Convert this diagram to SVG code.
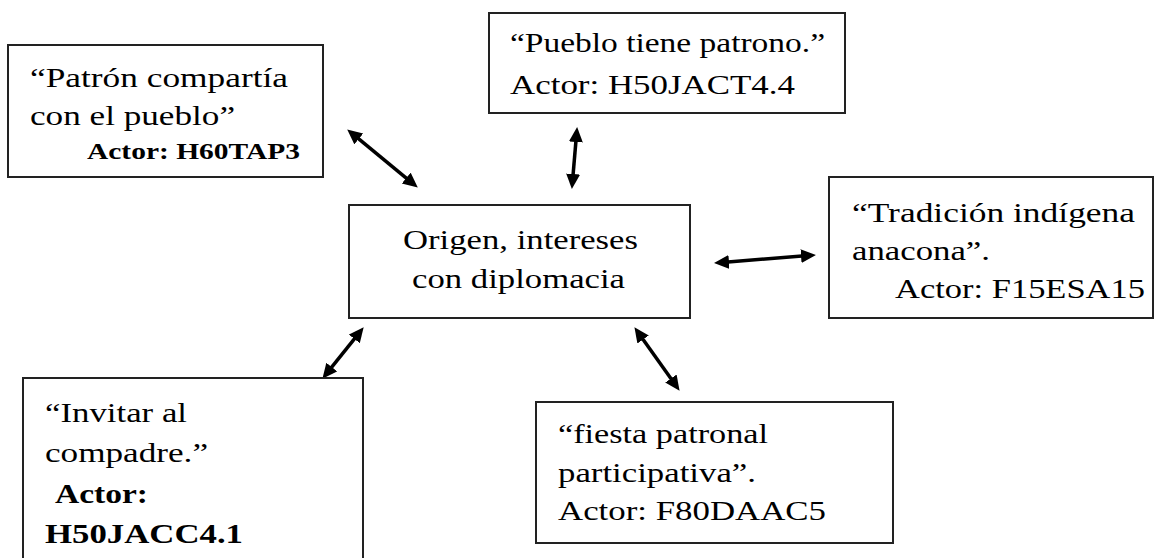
<svg xmlns="http://www.w3.org/2000/svg" width="1156" height="558" viewBox="0 0 1156 558">
<style>
.box{fill:#fff;stroke:#222;stroke-width:2}
.con{stroke:#000;stroke-width:3.5;fill:none;marker-start:url(#ah);marker-end:url(#ah)}
</style>
<defs>
<marker id="ah" markerUnits="userSpaceOnUse" markerWidth="16" markerHeight="15" refX="4" refY="7" orient="auto-start-reverse">
<path d="M0,0 L15,7 L0,14 z" fill="#000"/>
</marker>
</defs>
<rect width="1156" height="558" fill="#fff"/>
<g id="connectors">
<line class="con" x1="355.7" y1="136.4" x2="409.3" y2="180.6"/>
<line class="con" x1="576.2" y1="138" x2="572.8" y2="178"/>
<line class="con" x1="725" y1="262.2" x2="805" y2="255.8"/>
<line class="con" x1="356.8" y1="335.8" x2="329.3" y2="370.2"/>
<line class="con" x1="640.8" y1="336.2" x2="673.2" y2="381.8"/>
</g>
<g id="n1">
<rect class="box" x="8" y="45" width="315" height="132"/>
<text font-family="Liberation Serif" font-size="28" x="30" y="87" textLength="258" lengthAdjust="spacingAndGlyphs">“Patrón compartía</text>
<text font-family="Liberation Serif" font-size="28" x="30" y="125" textLength="205" lengthAdjust="spacingAndGlyphs">con el pueblo”</text>
<text font-family="Liberation Serif" font-size="23" font-weight="bold" x="87" y="159" textLength="213" lengthAdjust="spacingAndGlyphs">Actor: H60TAP3</text>
</g>
<g id="n2">
<rect class="box" x="489" y="13" width="356" height="100"/>
<text font-family="Liberation Serif" font-size="28" x="510" y="52" textLength="315" lengthAdjust="spacingAndGlyphs">“Pueblo tiene patrono.”</text>
<text font-family="Liberation Serif" font-size="28" x="510" y="94" textLength="285" lengthAdjust="spacingAndGlyphs">Actor: H50JACT4.4</text>
</g>
<g id="center">
<rect class="box" x="349" y="205" width="341" height="113"/>
<text font-family="Liberation Serif" font-size="28" x="403" y="249" textLength="235" lengthAdjust="spacingAndGlyphs">Origen, intereses</text>
<text font-family="Liberation Serif" font-size="28" x="412" y="288" textLength="213" lengthAdjust="spacingAndGlyphs">con diplomacia</text>
</g>
<g id="n4">
<rect class="box" x="829" y="177" width="324" height="141"/>
<text font-family="Liberation Serif" font-size="28" x="852" y="222" textLength="283" lengthAdjust="spacingAndGlyphs">“Tradición indígena</text>
<text font-family="Liberation Serif" font-size="28" x="852" y="260" textLength="138" lengthAdjust="spacingAndGlyphs">anacona”.</text>
<text font-family="Liberation Serif" font-size="28" x="895" y="298" textLength="250" lengthAdjust="spacingAndGlyphs">Actor: F15ESA15</text>
</g>
<g id="n5">
<rect class="box" x="23" y="378" width="340" height="200"/>
<text font-family="Liberation Serif" font-size="28" x="45" y="422" textLength="142" lengthAdjust="spacingAndGlyphs">“Invitar al</text>
<text font-family="Liberation Serif" font-size="28" x="45" y="462" textLength="163" lengthAdjust="spacingAndGlyphs">compadre.”</text>
<text font-family="Liberation Serif" font-size="28" font-weight="bold" x="55" y="503" textLength="93" lengthAdjust="spacingAndGlyphs">Actor:</text>
<text font-family="Liberation Serif" font-size="28" font-weight="bold" x="45" y="543" textLength="198" lengthAdjust="spacingAndGlyphs">H50JACC4.1</text>
</g>
<g id="n6">
<rect class="box" x="536" y="402" width="357" height="141"/>
<text font-family="Liberation Serif" font-size="28" x="558" y="443" textLength="210" lengthAdjust="spacingAndGlyphs">“fiesta patronal</text>
<text font-family="Liberation Serif" font-size="28" x="558" y="482" textLength="198" lengthAdjust="spacingAndGlyphs">participativa”.</text>
<text font-family="Liberation Serif" font-size="28" x="558" y="520" textLength="268" lengthAdjust="spacingAndGlyphs">Actor: F80DAAC5</text>
</g>
</svg>
